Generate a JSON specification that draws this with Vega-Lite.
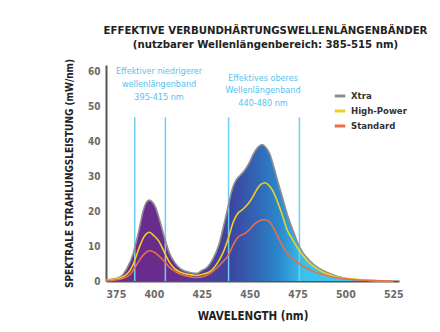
{
  "$schema": "https://vega.github.io/schema/vega-lite/v6.json",
  "width": 293,
  "height": 216,
  "autosize": {"type": "none"},
  "padding": {"left": 106, "top": 65, "right": 41, "bottom": 51},
  "background": "white",
  "config": {
    "view": {"stroke": null},
    "font": "Liberation Sans Narrow, DejaVu Sans Condensed, sans-serif",
    "axisY": {"labelOverlap": false, "values": [0, 10, 20, 30, 40, 50, 60]},
    "axisX": {"labelOverlap": false, "values": [375, 400, 425, 450, 475, 500, 525]}
  },
  "title": {
    "text": "EFFEKTIVE VERBUNDHÄRTUNGSWELLENLÄNGENBÄNDER",
    "subtitle": "(nutzbarer Wellenlängenbereich: 385-515 nm)",
    "font": "Liberation Sans Narrow, DejaVu Sans Condensed, sans-serif",
    "subtitleFont": "Liberation Sans Narrow, DejaVu Sans Condensed, sans-serif",
    "fontSize": 11.3,
    "subtitleFontSize": 11.3,
    "fontWeight": "bold",
    "subtitleFontWeight": "bold",
    "color": "#222222",
    "subtitleColor": "#222222",
    "subtitlePadding": 3,
    "anchor": "middle",
    "dx": 13,
    "offset": 8
  },
  "datasets": {
    "curves": [
      {"s": "Xtra", "x": 375, "y": 0.3}, {"s": "Xtra", "x": 380, "y": 0.7}, {"s": "Xtra", "x": 383, "y": 1.4},
      {"s": "Xtra", "x": 386, "y": 3.7}, {"s": "Xtra", "x": 389, "y": 7.5}, {"s": "Xtra", "x": 392, "y": 14},
      {"s": "Xtra", "x": 394.5, "y": 20.3}, {"s": "Xtra", "x": 396, "y": 22.5}, {"s": "Xtra", "x": 397.6, "y": 23.2},
      {"s": "Xtra", "x": 399, "y": 22.8}, {"s": "Xtra", "x": 401, "y": 21}, {"s": "Xtra", "x": 403, "y": 17.5},
      {"s": "Xtra", "x": 405.5, "y": 12.5}, {"s": "Xtra", "x": 408, "y": 8.2}, {"s": "Xtra", "x": 411, "y": 5.2},
      {"s": "Xtra", "x": 414, "y": 3.5}, {"s": "Xtra", "x": 417, "y": 2.7}, {"s": "Xtra", "x": 420, "y": 2.3},
      {"s": "Xtra", "x": 422.5, "y": 2.2}, {"s": "Xtra", "x": 425, "y": 3}, {"s": "Xtra", "x": 428, "y": 4},
      {"s": "Xtra", "x": 431, "y": 6.5}, {"s": "Xtra", "x": 434, "y": 10.5}, {"s": "Xtra", "x": 436.5, "y": 16},
      {"s": "Xtra", "x": 439, "y": 22}, {"s": "Xtra", "x": 441, "y": 26.5}, {"s": "Xtra", "x": 443, "y": 29},
      {"s": "Xtra", "x": 445, "y": 30.3}, {"s": "Xtra", "x": 447, "y": 31.5}, {"s": "Xtra", "x": 449.5, "y": 33.6},
      {"s": "Xtra", "x": 452, "y": 36.5}, {"s": "Xtra", "x": 454.5, "y": 38.5}, {"s": "Xtra", "x": 456.5, "y": 39.2},
      {"s": "Xtra", "x": 458.5, "y": 38.3}, {"s": "Xtra", "x": 460.5, "y": 36.5}, {"s": "Xtra", "x": 463, "y": 32},
      {"s": "Xtra", "x": 465, "y": 28}, {"s": "Xtra", "x": 467, "y": 24.2}, {"s": "Xtra", "x": 470, "y": 18.5},
      {"s": "Xtra", "x": 473, "y": 14}, {"s": "Xtra", "x": 475.5, "y": 10.4}, {"s": "Xtra", "x": 478, "y": 8},
      {"s": "Xtra", "x": 481, "y": 6}, {"s": "Xtra", "x": 484, "y": 4.5}, {"s": "Xtra", "x": 488, "y": 3.1},
      {"s": "Xtra", "x": 492, "y": 2.1}, {"s": "Xtra", "x": 496, "y": 1.3}, {"s": "Xtra", "x": 500, "y": 0.8},
      {"s": "Xtra", "x": 505, "y": 0.4}, {"s": "Xtra", "x": 510, "y": 0.2}, {"s": "Xtra", "x": 515, "y": 0.1},
      {"s": "Xtra", "x": 520, "y": 0.05}, {"s": "Xtra", "x": 525, "y": 0},

      {"s": "High-Power", "x": 375, "y": 0.2}, {"s": "High-Power", "x": 380, "y": 0.5}, {"s": "High-Power", "x": 383, "y": 1},
      {"s": "High-Power", "x": 386, "y": 2}, {"s": "High-Power", "x": 389, "y": 4.5}, {"s": "High-Power", "x": 391, "y": 7.5},
      {"s": "High-Power", "x": 393, "y": 10.5}, {"s": "High-Power", "x": 395, "y": 12.8}, {"s": "High-Power", "x": 397.6, "y": 14},
      {"s": "High-Power", "x": 400, "y": 13}, {"s": "High-Power", "x": 402.5, "y": 11.5}, {"s": "High-Power", "x": 405, "y": 8.8},
      {"s": "High-Power", "x": 408, "y": 5.5}, {"s": "High-Power", "x": 411, "y": 3.5}, {"s": "High-Power", "x": 414, "y": 2.5},
      {"s": "High-Power", "x": 418, "y": 1.9}, {"s": "High-Power", "x": 422, "y": 1.6}, {"s": "High-Power", "x": 426, "y": 2},
      {"s": "High-Power", "x": 430, "y": 3}, {"s": "High-Power", "x": 433, "y": 5}, {"s": "High-Power", "x": 436, "y": 8},
      {"s": "High-Power", "x": 439, "y": 12.5}, {"s": "High-Power", "x": 441.5, "y": 17}, {"s": "High-Power", "x": 444, "y": 19.5},
      {"s": "High-Power", "x": 446.5, "y": 20.6}, {"s": "High-Power", "x": 449, "y": 22}, {"s": "High-Power", "x": 451.5, "y": 24},
      {"s": "High-Power", "x": 454, "y": 26.5}, {"s": "High-Power", "x": 456, "y": 27.8}, {"s": "High-Power", "x": 458, "y": 28.2},
      {"s": "High-Power", "x": 460, "y": 27.5}, {"s": "High-Power", "x": 462, "y": 26}, {"s": "High-Power", "x": 464.5, "y": 22.8},
      {"s": "High-Power", "x": 467, "y": 19}, {"s": "High-Power", "x": 469.5, "y": 14.8}, {"s": "High-Power", "x": 472, "y": 12.3},
      {"s": "High-Power", "x": 475, "y": 9.5}, {"s": "High-Power", "x": 478, "y": 7.2}, {"s": "High-Power", "x": 481, "y": 5.3},
      {"s": "High-Power", "x": 485, "y": 3.6}, {"s": "High-Power", "x": 489.5, "y": 2.2}, {"s": "High-Power", "x": 494.5, "y": 1.3},
      {"s": "High-Power", "x": 500, "y": 0.8}, {"s": "High-Power", "x": 505, "y": 0.5}, {"s": "High-Power", "x": 510, "y": 0.3},
      {"s": "High-Power", "x": 515, "y": 0.15}, {"s": "High-Power", "x": 520, "y": 0.05}, {"s": "High-Power", "x": 525, "y": 0},

      {"s": "Standard", "x": 375, "y": 0.1}, {"s": "Standard", "x": 380, "y": 0.3}, {"s": "Standard", "x": 384, "y": 0.8},
      {"s": "Standard", "x": 387.5, "y": 1.8}, {"s": "Standard", "x": 390, "y": 3.8}, {"s": "Standard", "x": 392.5, "y": 6},
      {"s": "Standard", "x": 395, "y": 7.8}, {"s": "Standard", "x": 397.6, "y": 8.7}, {"s": "Standard", "x": 400, "y": 8.3},
      {"s": "Standard", "x": 402.5, "y": 7.3}, {"s": "Standard", "x": 405.5, "y": 5.6}, {"s": "Standard", "x": 408, "y": 4},
      {"s": "Standard", "x": 411, "y": 2.8}, {"s": "Standard", "x": 415, "y": 1.7}, {"s": "Standard", "x": 419, "y": 1.2},
      {"s": "Standard", "x": 422, "y": 1}, {"s": "Standard", "x": 426, "y": 1.3}, {"s": "Standard", "x": 430, "y": 2.4},
      {"s": "Standard", "x": 433, "y": 3.8}, {"s": "Standard", "x": 436, "y": 5.5}, {"s": "Standard", "x": 439, "y": 7.5},
      {"s": "Standard", "x": 441.5, "y": 10.5}, {"s": "Standard", "x": 443.5, "y": 12.3}, {"s": "Standard", "x": 446, "y": 13.3},
      {"s": "Standard", "x": 448, "y": 13.8}, {"s": "Standard", "x": 450, "y": 14.8}, {"s": "Standard", "x": 452.5, "y": 16.3},
      {"s": "Standard", "x": 455, "y": 17.2}, {"s": "Standard", "x": 457.5, "y": 17.6}, {"s": "Standard", "x": 460, "y": 17.2},
      {"s": "Standard", "x": 462.5, "y": 15.2}, {"s": "Standard", "x": 464.5, "y": 13}, {"s": "Standard", "x": 466.5, "y": 10.8},
      {"s": "Standard", "x": 470, "y": 7.6}, {"s": "Standard", "x": 473, "y": 6.2}, {"s": "Standard", "x": 475.5, "y": 5.1},
      {"s": "Standard", "x": 478.5, "y": 4.1}, {"s": "Standard", "x": 481.5, "y": 3.2}, {"s": "Standard", "x": 485, "y": 2.4},
      {"s": "Standard", "x": 489.5, "y": 1.7}, {"s": "Standard", "x": 494.5, "y": 1}, {"s": "Standard", "x": 500, "y": 0.6},
      {"s": "Standard", "x": 505, "y": 0.35}, {"s": "Standard", "x": 510, "y": 0.2}, {"s": "Standard", "x": 515, "y": 0.1},
      {"s": "Standard", "x": 520, "y": 0.03}, {"s": "Standard", "x": 525, "y": 0}
    ],
    "bands": [
      {"x": 390, "y": 0, "top": 47}, {"x": 406, "y": 0, "top": 47},
      {"x": 439, "y": 0, "top": 47}, {"x": 476, "y": 0, "top": 47}
    ],
    "notes": [
      {"x": 402.7, "y": 60.2, "t": "Effektiver niedrigerer"},
      {"x": 402.7, "y": 56.5, "t": "wellenlängenband"},
      {"x": 402.7, "y": 52.9, "t": "395-415 nm"},
      {"x": 457, "y": 58.2, "t": "Effektives oberes"},
      {"x": 457, "y": 54.7, "t": "Wellenlängenband"},
      {"x": 457, "y": 51.2, "t": "440-480 nm"}
    ]
  },
  "encoding": {
    "x": {
      "field": "x", "type": "quantitative",
      "scale": {"domain": [375, 528], "nice": false, "zero": false},
      "axis": {
        "title": "WAVELENGTH (nm)",
        "values": [375, 400, 425, 450, 475, 500, 525],
        "grid": false,
        "ticks": false,
        "labelOverlap": false,
        "domainColor": "#555555",
        "domainWidth": 2,
        "labelColor": "#6b6b6b",
        "labelFontSize": 10.5,
        "labelFontWeight": "bold",
        "labelPadding": 8,
        "titleFontSize": 11.5,
        "titleFontWeight": "bold",
        "titleColor": "#222222",
        "titlePadding": 11
      }
    },
    "y": {
      "field": "y", "type": "quantitative",
      "scale": {"domain": [0, 62], "nice": false},
      "axis": {
        "title": "SPEKTRALE STRAHLUNGSLEISTUNG (mW/nm)",
        "values": [0, 10, 20, 30, 40, 50, 60],
        "grid": false,
        "ticks": false,
        "labelOverlap": false,
        "domainColor": "#555555",
        "domainWidth": 2,
        "labelColor": "#6b6b6b",
        "labelFontSize": 10,
        "labelFontWeight": "bold",
        "labelPadding": 6,
        "titleFontSize": 10,
        "titleFontWeight": "bold",
        "titleColor": "#222222",
        "titlePadding": 13
      }
    }
  },
  "layer": [
    {
      "data": {"name": "curves"},
      "transform": [{"filter": "datum.s === 'Xtra'"}],
      "mark": {
        "type": "area",
        "interpolate": "monotone",
        "color": {
          "gradient": "linear",
          "x1": 0, "y1": 0, "x2": 1, "y2": 0,
          "stops": [
            {"offset": 0, "color": "#6a2a8c"},
            {"offset": 0.23, "color": "#682d8e"},
            {"offset": 0.33, "color": "#503a96"},
            {"offset": 0.43, "color": "#3c44a0"},
            {"offset": 0.53, "color": "#3168b6"},
            {"offset": 0.6, "color": "#2b86cb"},
            {"offset": 0.69, "color": "#38c2ee"},
            {"offset": 1, "color": "#45d0f5"}
          ]
        }
      }
    },
    {
      "data": {"name": "bands"},
      "mark": {"type": "rule", "color": "#6fcdf3", "strokeWidth": 1.5},
      "encoding": {
        "y2": {"field": "top"}
      }
    },
    {
      "data": {"name": "curves"},
      "mark": {"type": "line", "interpolate": "monotone", "strokeWidth": 1.6},
      "encoding": {
        "color": {
          "field": "s", "type": "nominal",
          "scale": {
            "domain": ["Xtra", "High-Power", "Standard"],
            "range": ["#8e8e8e", "#f0d020", "#ea6f48"]
          },
          "legend": {
            "title": null,
            "orient": "none",
            "legendX": 227,
            "legendY": 24,
            "symbolType": "stroke",
            "symbolStrokeWidth": 3,
            "symbolSize": 110,
            "rowPadding": 2,
            "labelFontSize": 9.5,
            "labelFontWeight": "bold",
            "labelColor": "#333333",
            "labelOffset": 4
          }
        }
      }
    },
    {
      "data": {"name": "notes"},
      "mark": {"type": "text", "color": "#55c3ee", "fontSize": 9, "align": "center", "baseline": "middle"},
      "encoding": {
        "text": {"field": "t"}
      }
    }
  ]
}
